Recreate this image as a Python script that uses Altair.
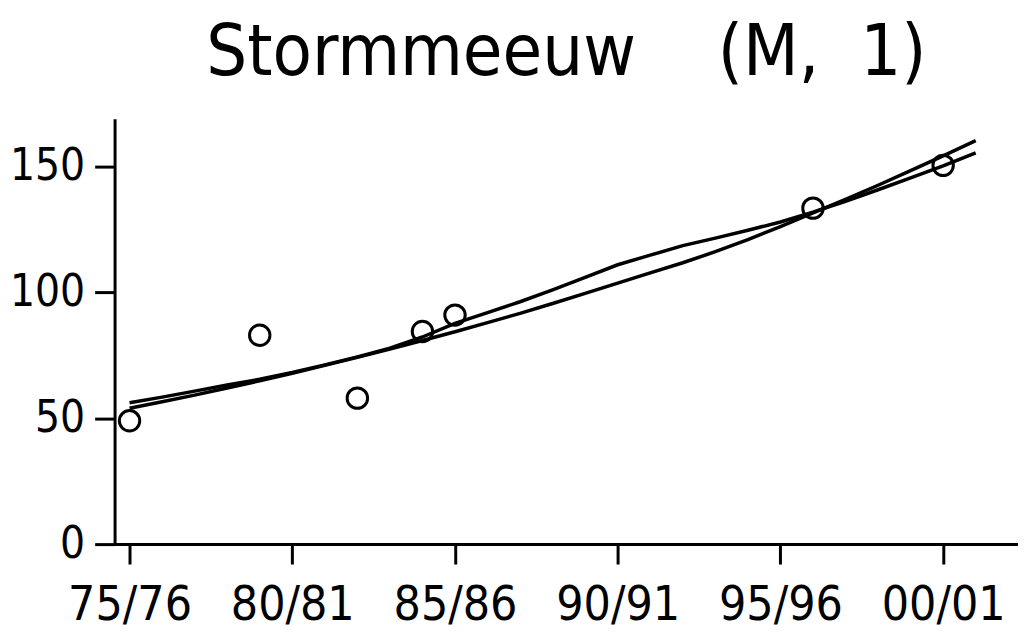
import altair as alt
import pandas as pd

# Observed counts (open circles)
obs_years = [1975, 1979, 1982, 1984, 1985, 1996, 2000]
obs_values = [49, 83, 58, 84.5, 91, 133.5, 150.5]

# Smooth (exponential-like) trend line
smooth_years = list(range(1975, 2002))
smooth_values = [54.0, 56.6, 59.2, 62.0, 64.9, 67.9, 71.0, 74.2, 77.5, 80.9,
                 84.4, 88.0, 91.7, 95.6, 99.6, 103.7, 107.8, 111.8, 116.2, 121.0,
                 126.2, 131.6, 137.0, 142.6, 148.4, 154.3, 160.3]

# Kinked trend line
kink_years = list(range(1975, 2002))
kink_values = [56.2, 58.4, 60.8, 63.2, 65.5, 68.2, 71.2, 74.4, 77.9, 82.3,
               87.7, 92.0, 96.3, 101.0, 106.0, 111.0, 114.8, 118.6, 121.6, 124.7,
               128.0, 131.9, 136.2, 140.8, 145.5, 150.3, 155.5]

tick_years = [1975, 1980, 1985, 1990, 1995, 2000]
tick_labels = ["75/76", "80/81", "85/86", "90/91", "95/96", "00/01"]
y_ticks = [0, 50, 100, 150]

FONT = "DejaVu Sans Condensed, Liberation Sans Narrow, Roboto, sans-serif"

label_expr = "''"
for yr, lab in reversed(list(zip(tick_years, tick_labels))):
    label_expr = f"datum.value == {yr} ? '{lab}' : ({label_expr})"

lines_df = pd.concat([
    pd.DataFrame({"year": smooth_years, "value": smooth_values, "series": "smooth"}),
    pd.DataFrame({"year": kink_years, "value": kink_values, "series": "kink"}),
])
obs_df = pd.DataFrame({"year": obs_years, "value": obs_values})

x_enc = alt.X(
    "year:Q",
    scale=alt.Scale(domain=[1974.54, 2002.3], nice=False, zero=False),
    axis=alt.Axis(values=tick_years, labelExpr=label_expr, title=None, grid=False,
                  labelFont=FONT, labelFontSize=48, labelColor="black",
                  domainColor="black", domainWidth=3, tickColor="black", tickWidth=3,
                  tickSize=20, labelPadding=18, labelFlush=False, labelOverlap=False),
)
y_enc = alt.Y(
    "value:Q",
    scale=alt.Scale(domain=[0, 169], nice=False),
    axis=alt.Axis(values=y_ticks, title=None, grid=False,
                  labelFont=FONT, labelFontSize=44, labelColor="black",
                  domainColor="black", domainWidth=3, tickColor="black", tickWidth=3,
                  tickSize=20, labelPadding=10, labelFlush=False, labelOverlap=False),
)

lines = alt.Chart(lines_df).mark_line(color="black", strokeWidth=3.5).encode(
    x=x_enc, y=y_enc, detail="series:N"
)
points = alt.Chart(obs_df).mark_point(
    shape="circle", filled=False, color="black", strokeWidth=3, size=420, opacity=1
).encode(x="year:Q", y="value:Q")

chart = alt.layer(lines, points).properties(
    width=907,
    height=427,
    padding={"left": 107, "top": 110, "right": 0, "bottom": 86},
    autosize=alt.AutoSizeParams(type="none"),
    title=alt.Title(
        "Stormmeeuw\u00a0\u00a0\u00a0\u00a0(M,\u00a0\u00a01)",
        font=FONT, fontSize=72, fontWeight="normal", color="black",
        anchor="middle", baseline="alphabetic", offset=38, dy=66,
    ),
).configure(
    background="white",
    view=alt.ViewConfig(stroke="transparent", strokeWidth=0),
)

chart.save("out.html", embed_options={"renderer": "svg", "actions": False})
